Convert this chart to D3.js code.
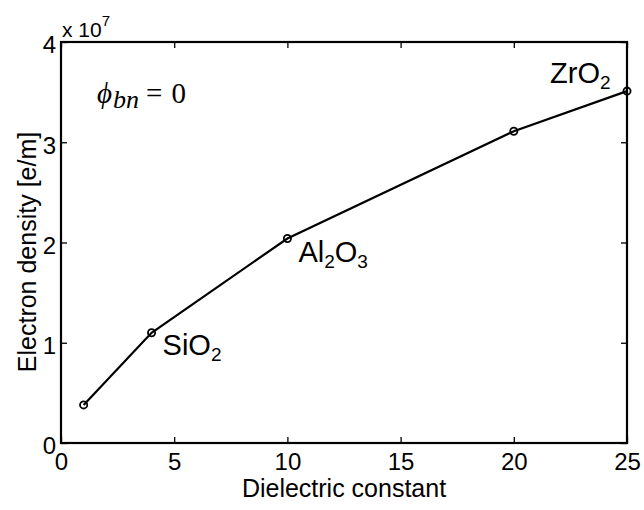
<!DOCTYPE html>
<html>
<head>
<meta charset="utf-8">
<script src="https://cdn.jsdelivr.net/npm/d3@7"></script>
<style>
body{margin:0;background:#fff;}
svg{font-family:"Liberation Sans",Arial,sans-serif;}
</style>
</head>
<body>
<svg id="chart" width="644" height="510"></svg>
<script>
'use strict'

var dielectric = [1, 4, 10, 20, 25];
var density = [0.38, 1.10, 2.04, 3.11, 3.51];   // x 1e7 e/m
var materials = [null, ['Si','O','_2'], ['Al','_2','O','_3'], null, ['Zr','O','_2']];
var xTicks = [0, 5, 10, 15, 20, 25];
var yTicks = [0, 1, 2, 3, 4];

var box = {left: 61, right: 627, top: 42, bottom: 443};

var svg = d3.select('#chart');

var xScale = d3.scaleLinear().domain([0, 25]).range([box.left, box.right]);
var yScale = d3.scaleLinear().domain([0, 4]).range([box.bottom, box.top]);

function styleAxis(g){
	g.select('.domain').remove();
	g.attr('font-size', null).attr('font-family', null);
	g.selectAll('line').attr('stroke', '#000').attr('stroke-width', 1.3);
	g.selectAll('text').attr('font-size', 24).attr('fill', '#000');
}

// bottom
svg.append('g')
	.attr('transform', `translate(0, ${box.bottom})`)
	.call(d3.axisBottom(xScale).tickValues(xTicks).tickSize(-6).tickPadding(10).tickFormat(d3.format('d')))
	.call(styleAxis)
	.selectAll('text').attr('dy', '0.72em');
// top
svg.append('g')
	.attr('transform', `translate(0, ${box.top})`)
	.call(d3.axisTop(xScale).tickValues(xTicks).tickSize(-6).tickFormat(''))
	.call(styleAxis);
// left
svg.append('g')
	.attr('transform', `translate(${box.left}, 0)`)
	.call(d3.axisLeft(yScale).tickValues(yTicks).tickSize(-6).tickPadding(5).tickFormat(d3.format('d')))
	.call(styleAxis)
	.selectAll('text').attr('dy', '0.45em');
// right
svg.append('g')
	.attr('transform', `translate(${box.right}, 0)`)
	.call(d3.axisRight(yScale).tickValues(yTicks).tickSize(-6).tickFormat(''))
	.call(styleAxis);

svg.append('rect')
	.attr('x', box.left).attr('y', box.top)
	.attr('width', box.right - box.left).attr('height', box.bottom - box.top)
	.attr('fill', 'none').attr('stroke', '#000').attr('stroke-width', 2.2);

// exponent
var ex = svg.append('text').attr('x', box.left + 1).attr('y', 37).attr('font-size', 21);
ex.append('tspan').text('x 10');
ex.append('tspan').attr('font-size', 15).attr('dy', -11).text('7');

// axis titles
svg.append('text')
	.attr('x', (box.left + box.right) / 2).attr('y', 497)
	.attr('text-anchor', 'middle').attr('font-size', 25)
	.text('Dielectric constant');
svg.append('text')
	.attr('transform', `translate(36, 252) rotate(-90)`)
	.attr('text-anchor', 'middle').attr('font-size', 25)
	.text('Electron density [e/m]');

// line and markers
var pts = dielectric.map(function(d, i){ return {x: d, y: density[i], m: materials[i]}; });

svg.append('path')
	.datum(pts)
	.attr('fill', 'none').attr('stroke', '#000').attr('stroke-width', 2.2)
	.attr('d', d3.line().x(function(d){ return xScale(d.x); }).y(function(d){ return yScale(d.y); }));

svg.append('g')
	.selectAll('circle')
	.data(pts)
	.enter()
	.append('circle')
	.attr('cx', function(d){ return xScale(d.x); })
	.attr('cy', function(d){ return yScale(d.y); })
	.attr('r', 3.6)
	.attr('fill', 'none').attr('stroke', '#000').attr('stroke-width', 1.8);

// material labels
var labelOffset = [null, [11, 22], [11, 24], null, [-77, -8]];
pts.forEach(function(d, i){
	if(!d.m) return;
	var t = svg.append('text')
		.attr('x', xScale(d.x) + labelOffset[i][0])
		.attr('y', yScale(d.y) + labelOffset[i][1])
		.attr('font-size', 29);
	var sub = false;
	d.m.forEach(function(s){
		var isSub = s[0] === '_';
		var dy = isSub === sub ? 0 : (isSub ? 6 : -6);
		t.append('tspan').attr('font-size', isSub ? 19 : 29).attr('dy', dy).text(isSub ? s.slice(1) : s);
		sub = isSub;
	});
});

// phi label
var phi = svg.append('text')
	.attr('x', 97).attr('y', 103)
	.style('font-family', '"Liberation Serif", "DejaVu Serif", serif')
	.attr('font-size', 29);
phi.append('tspan').attr('font-style', 'italic').text('\u03D5');
phi.append('tspan').attr('font-style', 'italic').attr('font-size', 26).attr('dy', 5).attr('dx', 1).text('bn');
phi.append('tspan').attr('dy', -5).attr('dx', 7).text('=');
phi.append('tspan').attr('dx', 9).text('0');
</script>
</body>
</html>
